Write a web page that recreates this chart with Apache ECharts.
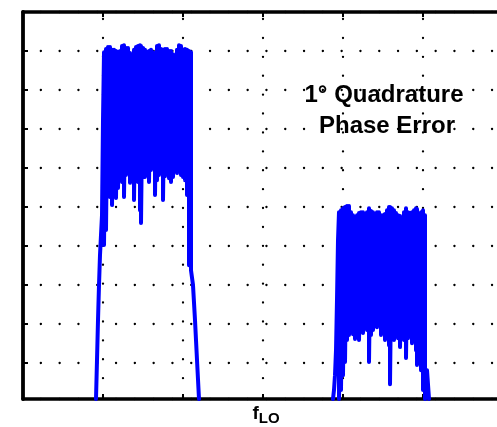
<!DOCTYPE html>
<html>
<head>
<meta charset="utf-8">
<script src="https://cdn.jsdelivr.net/npm/echarts@6.0.0/dist/echarts.min.js"></script>
<style>
html,body{margin:0;padding:0;background:#fff;}
#chart{width:497px;height:427px;}
</style>
</head>
<body>
<div id="chart"></div>
<script>
// Frequency offset from the LO (MHz) and level below reference (dB, axis drawn downward)
const FREQ_MIN = -240, FREQ_MAX = 240, FREQ_STEP = 80;
const LEVEL_MIN = 0, LEVEL_MAX = 99.2, LEVEL_STEP = 10;
const tickLabelValue = 0;           // the only labelled tick: f_LO
const annotationLines = ['1° Quadrature', 'Phase Error'];

// ---- Upper (wanted) sideband ----
const b1EdgeFreq  = [-167, -166, -165, -164, -163, -162, -161, -160];
const b1EdgeLevel = [99.2, 89.2, 79.0, 70.0, 62.3, 57.2, 52.1, 27.7];
const b1Freq  = [-159,-157,-155,-153,-151,-149,-147,-145,-143,-141,-139,-137,-135,-133,-131,-129,-127,-125,-123,-122,-120,-118,-116,-114,-112,-110,-108,-106,-104,-102,-100,-98,-96,-94,-92,-90,-88,-86,-84,-82,-80,-78,-76,-74,-72];
const b1Peak  = [10.3,9.5,9.0,9.0,9.7,9.7,10.0,10.3,10.0,8.7,8.5,9.2,9.2,10.5,10.8,9.7,9.0,8.7,8.5,8.7,9.2,9.7,10.3,10.0,9.7,10.3,10.5,8.7,8.5,9.5,9.7,9.5,9.5,10.0,10.0,10.8,11.0,9.7,8.5,8.7,9.7,9.5,9.7,10.0,10.3];
const b1Floor = [59.7,55.9,45.6,47.4,49.5,46.2,47.7,45.1,40.5,43.6,47.4,41.8,41.3,43.8,40.0,48.2,40.5,43.6,50.8,54.1,41.0,42.3,41.8,43.6,40.5,40.0,46.9,43.1,41.8,41.0,48.2,42.1,40.5,42.6,43.6,42.3,40.5,41.3,40.0,41.8,42.3,43.1,46.9,64.9,66.2];
const b1TailFreq  = [-70, -68, -66, -64];
const b1TailLevel = [70.0, 79.0, 89.2, 99.2];

// ---- Image sideband (1 deg quadrature phase error) ----
const b2EdgeFreq  = [70, 71, 72, 73, 74, 75];
const b2EdgeLevel = [99.2, 96.9, 93.1, 86.7, 73.8, 58.5];
const b2Freq  = [76,78,80,82,84,86,88,90,92,94,96,98,100,102,104,106,108,110,112,114,116,118,120,122,124,126,127,129,131,133,135,137,139,141,143,145,147,149,151,153,154,156,158,160,162];
const b2Peak  = [51.3,50.8,50.3,50.0,49.7,49.7,51.3,52.1,52.8,52.1,51.5,51.3,51.3,52.1,51.3,50.3,51.0,51.3,52.1,51.3,51.3,52.1,52.1,51.8,50.8,50.0,50.0,50.3,50.8,51.5,52.1,52.3,52.6,51.3,50.3,51.3,51.5,51.3,50.8,50.3,50.5,52.1,51.3,50.8,52.1];
const b2Floor = [99.2,96.9,93.1,89.7,84.1,82.8,81.5,82.6,83.8,81.5,84.1,81.0,82.3,80.3,81.5,89.7,82.8,81.5,80.5,80.8,79.5,82.8,81.5,84.1,82.8,85.4,95.4,82.1,84.1,81.5,83.6,85.9,82.8,84.1,88.7,83.6,81.5,84.9,82.8,86.7,90.5,87.4,91.8,96.9,99.2];
const b2TailFreq  = [164, 166];
const b2TailLevel = [91.8, 99.2];

function trace(edgeF, edgeL, colF, colPeak, colFloor, tailF, tailL) {
  const pts = [];
  edgeF.forEach((f, i) => pts.push([f, edgeL[i]]));
  colF.forEach((f, i) => { pts.push([f, colPeak[i]]); pts.push([f, colFloor[i]]); });
  tailF.forEach((f, i) => pts.push([f, tailL[i]]));
  return pts;
}
const sideband1 = trace(b1EdgeFreq, b1EdgeLevel, b1Freq, b1Peak, b1Floor, b1TailFreq, b1TailLevel);
const sideband2 = trace(b2EdgeFreq, b2EdgeLevel, b2Freq, b2Peak, b2Floor, b2TailFreq, b2TailLevel);

const FONT = '"Liberation Sans", Arial, sans-serif';
const dotStyleH = { color: '#000', width: 2.3, type: [0.1, 18.7], cap: 'round', dashOffset: 1 };
const dotStyleV = { color: '#000', width: 2.3, type: [0.1, 18.8], cap: 'round', dashOffset: 11.9 };
const lineSeries = (name, data) => ({
  name, type: 'line', data, showSymbol: false, symbol: 'none', animation: false,
  lineStyle: { color: '#0000ff', width: 4, join: 'round', cap: 'round' },
  clip: true, z: 3
});

const chart = echarts.init(document.getElementById('chart'), null, { renderer: 'canvas' });
chart.setOption({
  backgroundColor: '#fff',
  animation: false,
  grid: { left: 23, top: 12, right: -6, bottom: 28, containLabel: false, outerBoundsMode: 'none' },
  xAxis: [{
    type: 'value', min: FREQ_MIN, max: FREQ_MAX, interval: FREQ_STEP, position: 'bottom',
    axisLine: { show: true, onZero: false, lineStyle: { color: '#000', width: 3.5 } },
    axisTick: { show: true, inside: true, length: 5, lineStyle: { color: '#000', width: 2 } },
    splitLine: { show: true, lineStyle: dotStyleV },
    axisLabel: {
      show: true, margin: 5, interval: 0,
      formatter: v => (v === tickLabelValue ? '{f|f}{s|LO}' : ''),
      rich: {
        f: { fontFamily: FONT, fontWeight: 'bold', fontSize: 19, color: '#000', lineHeight: 22, verticalAlign: 'top', padding: [0, 0, 0, 6] },
        s: { fontFamily: FONT, fontWeight: 'bold', fontSize: 15, color: '#000', lineHeight: 14, verticalAlign: 'bottom' }
      }
    }
  }, {
    type: 'value', min: FREQ_MIN, max: FREQ_MAX, interval: FREQ_STEP, position: 'top',
    axisLine: { show: true, onZero: false, lineStyle: { color: '#000', width: 3.5 } },
    axisTick: { show: true, inside: true, length: 5, lineStyle: { color: '#000', width: 2 } },
    splitLine: { show: false }, axisLabel: { show: false }
  }],
  yAxis: [{
    type: 'value', inverse: true, min: LEVEL_MIN, max: LEVEL_MAX, interval: LEVEL_STEP,
    axisLine: { show: true, onZero: false, lineStyle: { color: '#000', width: 3.8 } },
    axisTick: { show: true, inside: true, length: 5, lineStyle: { color: '#000', width: 2 } },
    splitLine: { show: true, lineStyle: dotStyleH },
    axisLabel: { show: false }
  }],
  series: [lineSeries('Wanted sideband', sideband1), lineSeries('Image sideband', sideband2)],
  graphic: annotationLines.map((t, i) => ({
    type: 'text', x: [384, 387][i], y: [95, 126][i], z: 10,
    style: { text: t, fill: '#000', font: 'bold 24px ' + FONT, align: 'center', verticalAlign: 'middle' }
  }))
});
</script>
</body>
</html>
